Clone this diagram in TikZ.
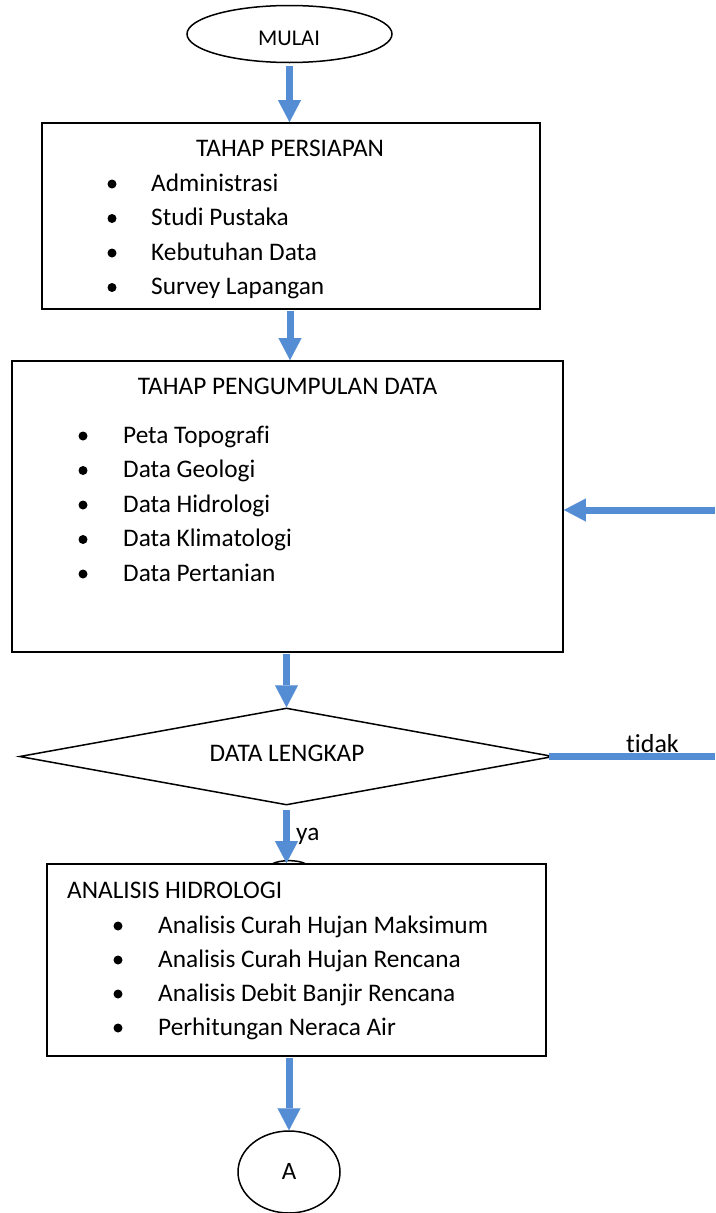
\documentclass[tikz,border=0pt]{standalone}
\usepackage{fontspec}
\setmainfont{Carlito}[Ligatures={NoCommon}]
\usetikzlibrary{arrows.meta,shapes.geometric}
\definecolor{flowblue}{RGB}{84,141,212}
\tikzset{
  box/.style={draw=black, line width=1.8pt, rectangle, inner sep=0pt},
  oval/.style={draw=black, line width=1.5pt, ellipse, inner sep=0pt},
  flow/.style={draw=flowblue, line width=7pt, -{Triangle[length=22pt,width=23pt,line width=0.1pt]}},
  flowline/.style={draw=flowblue, line width=7pt},
  txt/.style={inner sep=0pt, font=\fontsize{25.3pt}{29pt}\selectfont},
  bul/.style={circle, fill=black, inner sep=0pt, minimum size=9pt},
}
\begin{document}
\begin{tikzpicture}[x=1pt,y=-1pt]
\useasboundingbox (0,0) rectangle (715,1213);
% shapes
\node[oval, minimum width=205pt, minimum height=57pt] (mulai) at (289.5,34) {};
\node[box, minimum width=498pt, minimum height=186pt] (b1) at (291,216) {};
\node[box, minimum width=551pt, minimum height=291pt] (b2) at (287.5,506.5) {};
\node[diamond, draw=black, line width=1.5pt, inner sep=0pt, shape aspect=5.5,
      minimum width=534pt, minimum height=97pt] (dec) at (286.5,756.5) {};
\node[box, minimum width=499pt, minimum height=192pt] (b3) at (296.5,960) {};
\node[oval, minimum width=102pt, minimum height=82pt] (conA) at (289,1172) {};
\draw[line width=1.5pt] (272,864) .. controls (280,859.5) and (298,859.5) .. (306,864);
% texts
\node[txt, font=\fontsize{22.5pt}{26pt}\selectfont, anchor=base] (mulaiT) at (289,45) {MULAI};
\node[txt, anchor=base] (t1) at (290,156) {TAHAP PERSIAPAN};
\node[txt, anchor=base west] (t1a) at (151,191) {Administrasi};
\node[txt, anchor=base west] (t1b) at (151,225.5) {Studi Pustaka};
\node[txt, anchor=base west] (t1c) at (151,260) {Kebutuhan Data};
\node[txt, anchor=base west] (t1d) at (151,294.5) {Survey Lapangan};
\foreach \yy [count=\i] in {191,225.5,260,294.5} \node[bul] (u1\i) at (112,\yy-7) {};
\node[txt, anchor=base] (t2) at (287.5,394) {TAHAP PENGUMPULAN DATA};
\node[txt, anchor=base west] (t2a) at (123,443) {Peta Topografi};
\node[txt, anchor=base west] (t2b) at (123,477.5) {Data Geologi};
\node[txt, anchor=base west] (t2c) at (123,512) {Data Hidrologi};
\node[txt, anchor=base west] (t2d) at (123,546.5) {Data Klimatologi};
\node[txt, anchor=base west] (t2e) at (123,581) {Data Pertanian};
\foreach \yy [count=\i] in {443,477.5,512,546.5,581} \node[bul] (u2\i) at (83,\yy-7) {};
\node[txt, anchor=base] (t3) at (287,761) {DATA LENGKAP};
\node[txt, anchor=base west] (tya) at (296,840) {ya};
\node[txt, font=\fontsize{26pt}{30pt}\selectfont, anchor=base west] (ttidak) at (626,752) {tidak};
\node[txt, anchor=base west] (t4) at (67,898) {ANALISIS HIDROLOGI};
\node[txt, anchor=base west] (t4a) at (158,933) {Analisis Curah Hujan Maksimum};
\node[txt, anchor=base west] (t4b) at (158,967) {Analisis Curah Hujan Rencana};
\node[txt, anchor=base west] (t4c) at (158,1001) {Analisis Debit Banjir Rencana};
\node[txt, anchor=base west] (t4d) at (158,1035) {Perhitungan Neraca Air};
\foreach \yy [count=\i] in {933,967,1001,1035} \node[bul] (u3\i) at (118,\yy-7) {};
\node[txt, font=\fontsize{25pt}{29pt}\selectfont, anchor=base] (tA) at (289,1179) {A};
% connectors
\coordinate (r1) at (715,510);
\coordinate (r2) at (715,757);
\coordinate (s2) at (290,309);
\draw[flow, shorten <=3pt] (mulai.south) -- (mulai.south |- b1.north);
\draw[flow, shorten <=1pt] (s2 |- b1.south) -- (s2 |- b2.north);
\draw[flow, shorten <=1pt] (dec.north |- b2.south) -- (dec.north);
\draw[flow, shorten <=4pt] (dec.south) -- (dec.south |- b3.north);
\draw[flow, shorten <=1pt] (conA.north |- b3.south) -- (conA.north);
\draw[flow] (r1) -- (r1 -| b2.east);
\draw[flowline] ([xshift=-5pt]dec.east) -- (dec.east -| r2);
\end{tikzpicture}
\end{document}
